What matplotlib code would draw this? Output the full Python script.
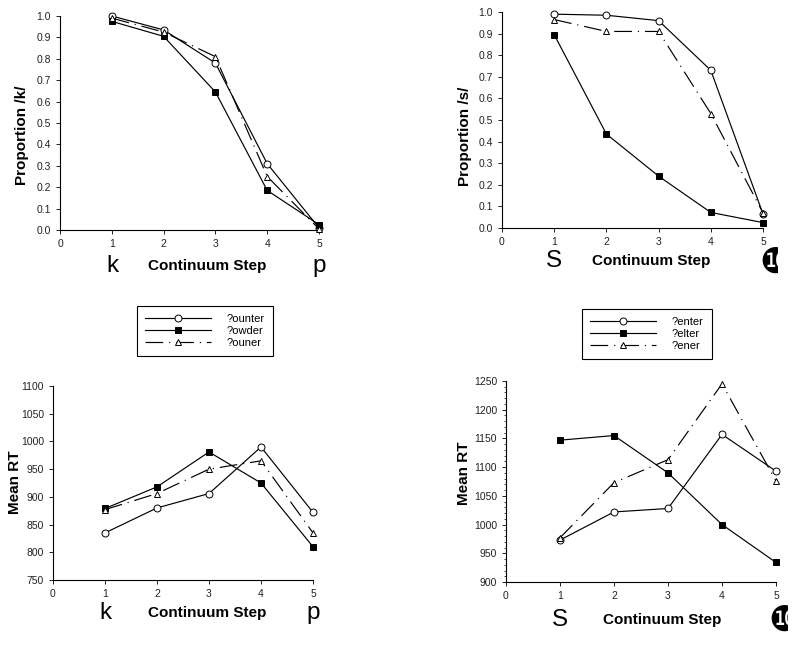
import matplotlib
matplotlib.use("Agg")
import matplotlib.pyplot as plt
from matplotlib.ticker import MultipleLocator
from matplotlib.transforms import Bbox

plt.rcParams["font.family"] = ["Liberation Sans", "DejaVu Sans"]

steps = [1, 2, 3, 4, 5]

# proportion /k/ (left) and /s/ (right)
k_ounter = [1.00, 0.935, 0.78, 0.31, 0.01]
k_owder = [0.975, 0.905, 0.645, 0.185, 0.025]
k_ouner = [0.99, 0.925, 0.81, 0.25, 0.005]

s_enter = [0.99, 0.985, 0.96, 0.73, 0.065]
s_elter = [0.895, 0.435, 0.24, 0.072, 0.025]
s_ener = [0.965, 0.91, 0.91, 0.53, 0.07]

# mean RT
rt_ounter = [835, 880, 906, 990, 872]
rt_owder = [879, 918, 981, 925, 810]
rt_ouner = [877, 906, 950, 965, 835]

rt_enter = [973, 1022, 1028, 1157, 1093]
rt_elter = [1147, 1155, 1090, 1000, 934]
rt_ener = [977, 1073, 1113, 1245, 1076]

left_labels = ["?ounter", "?owder", "?ouner"]
right_labels = ["?enter", "?elter", "?ener"]

fig = plt.figure(figsize=(8.0, 6.47), dpi=100)

W, H = 800.0, 647.0


def make_axes(x0, x1, y_top, y_bot):
    return fig.add_axes([x0 / W, 1 - y_bot / H, (x1 - x0) / W, (y_bot - y_top) / H])


dash = (0, (15, 5, 1, 5))


def draw(ax, series, labels, ylim, major, minor=None):
    styles = [
        dict(marker="o", mfc="white", linestyle="-"),
        dict(marker="s", mfc="black", linestyle="-"),
        dict(marker="^", mfc="white", linestyle=dash),
    ]
    for ys, lab, st in zip(series, labels, styles):
        ax.plot(steps, ys, color="black", lw=0.85, ms=5, mec="black",
                mew=0.7, label=lab, clip_on=False, zorder=3, **st)
    ax.set_xlim(0, 5)
    ax.set_ylim(*ylim)
    ax.xaxis.set_major_locator(MultipleLocator(1))
    ax.yaxis.set_major_locator(MultipleLocator(major))
    if minor:
        ax.yaxis.set_minor_locator(MultipleLocator(minor))
    for side in ("top", "right"):
        ax.spines[side].set_visible(False)
    for side in ("left", "bottom"):
        ax.spines[side].set_linewidth(0.8)
    ax.tick_params(labelsize=7.5, length=3, width=0.7, pad=3.5, colors="#222222")
    ax.tick_params(which="minor", length=1.5, width=0.5)


ax1 = make_axes(60, 319, 16, 230)
draw(ax1, [k_ounter, k_owder, k_ouner], left_labels, (0, 1), 0.1)
ax1.yaxis.set_major_formatter(plt.FormatStrFormatter("%.1f"))

ax2 = make_axes(502, 763, 12, 228)
draw(ax2, [s_enter, s_elter, s_ener], right_labels, (0, 1), 0.1)
ax2.yaxis.set_major_formatter(plt.FormatStrFormatter("%.1f"))

ax3 = make_axes(53, 313, 386, 580)
draw(ax3, [rt_ounter, rt_owder, rt_ouner], left_labels, (750, 1100), 50)

ax4 = make_axes(506, 776, 381, 582)
draw(ax4, [rt_enter, rt_elter, rt_ener], right_labels, (900, 1250), 50, 10)


def ftext(x, y, s, va="center", **kw):
    return fig.text(x / W, 1 - y / H, s, ha="center", va=va, **kw)


# y labels
ftext(22, 135, "Proportion /k/", rotation=90, fontsize=11, fontweight="bold")
ftext(465, 136, "Proportion /s/", rotation=90, fontsize=11, fontweight="bold")
ftext(15, 482, "Mean RT", rotation=90, fontsize=11, fontweight="bold")
ftext(464, 473, "Mean RT", rotation=90, fontsize=11, fontweight="bold")

# x labels with continuum endpoints (baselines in pixels)
for (xk, xc, xp, y, a, b) in [
    (112, 207, 319, 272, "k", "p"),
    (554, 651, None, 267, "S", None),
    (105, 207, 313, 619, "k", "p"),
    (560, 662, None, 626, "S", None),
]:
    ftext(xk, y, a, va="baseline", fontsize=17.5)
    ftext(xc, y - 2, "Continuum Step", va="baseline", fontsize=11,
          fontweight="bold")
    if xp is not None:
        ftext(xp, y, b, va="baseline", fontsize=17.5)

# symbol cut off at the right
for (x, y, clip_x) in [(775, 263, 778), (784, 621, 788)]:
    t = ftext(x, y, "\u277f", fontsize=25, family=["DejaVu Sans"])
    t.set_clip_box(Bbox.from_extents(0, 0, clip_x, H))
    t.set_clip_on(True)

# legends
h1, l1 = ax1.get_legend_handles_labels()
h2, l2 = ax2.get_legend_handles_labels()
for handles, labels, anchor in [
    (h1, l1, (137 / W, 1 - 306 / H)),
    (h2, l2, (582 / W, 1 - 309 / H)),
]:
    leg = fig.legend(handles, labels, loc="upper left", bbox_to_anchor=anchor,
                     fontsize=8, handlelength=6, handletextpad=1.4,
                     labelspacing=0.2, fancybox=False, framealpha=1,
                     edgecolor="black", borderpad=0.7, borderaxespad=0)
    leg.get_frame().set_linewidth(0.8)

fig.savefig("out.png", dpi=100)
